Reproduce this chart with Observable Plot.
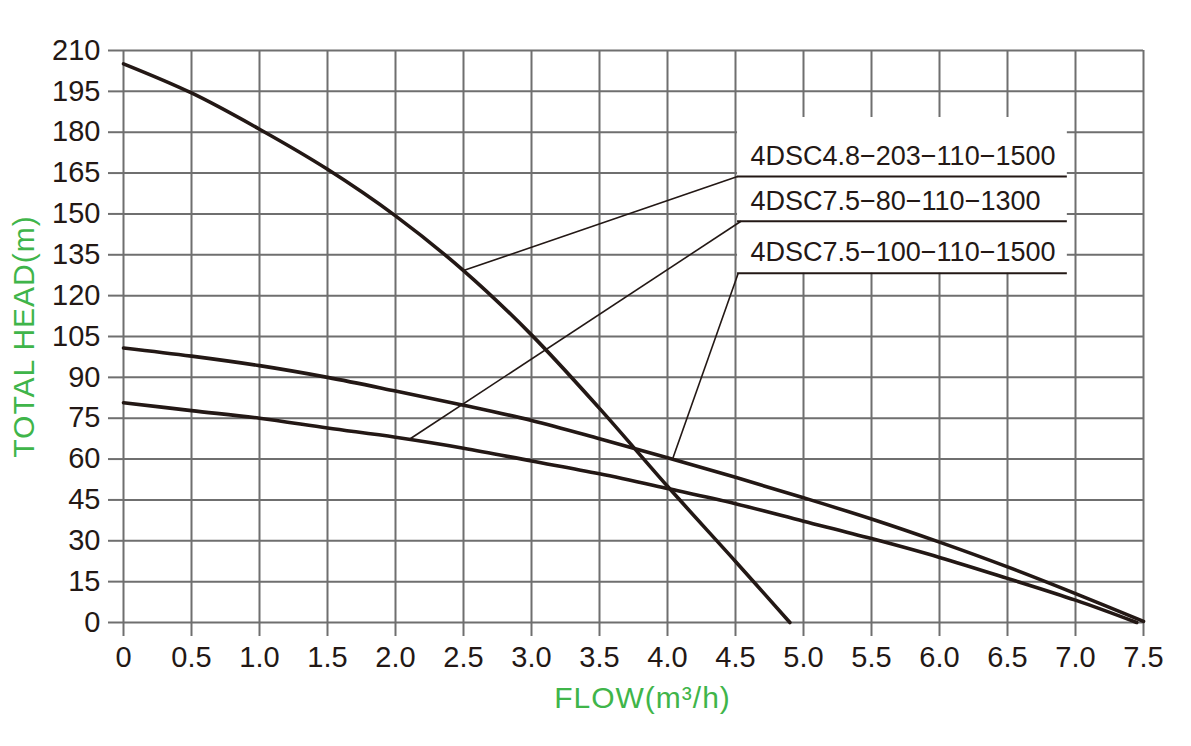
<!DOCTYPE html>
<html>
<head>
<meta charset="utf-8">
<script src="https://cdn.jsdelivr.net/npm/d3@7"></script>
<script src="https://cdn.jsdelivr.net/npm/@observablehq/plot@0.6"></script>
<style>
  html, body { margin: 0; padding: 0; background: #fff; }
  #chart svg { display: block; }
</style>
</head>
<body>
<div id="chart"></div>
<script>
// ---- Data ----
const flowA = [0, 0.5, 1.0, 1.5, 2.0, 2.5, 3.0, 3.5, 4.0, 4.5, 4.9];
const headA = [205.1, 194.4, 181.1, 166.4, 149.3, 129.2, 105.6, 78.6, 50.0, 22.4, 0];

const flowB = [0, 0.5, 1.0, 1.5, 2.0, 2.5, 3.0, 3.5, 4.0, 4.5, 5.0, 5.5, 6.0, 6.5, 7.0, 7.5];
const headB = [100.8, 97.8, 94.3, 90.0, 85.0, 79.8, 74.2, 67.5, 60.5, 53.3, 45.8, 38.0, 29.5, 20.4, 10.6, 0.4];

const flowC = [0, 0.5, 1.0, 1.5, 2.0, 2.5, 3.0, 3.5, 4.0, 4.5, 5.0, 5.5, 6.0, 6.5, 7.0, 7.45];
const headC = [80.7, 77.8, 75.0, 71.4, 68.0, 64.0, 59.3, 54.6, 49.2, 43.6, 37.2, 30.8, 23.9, 16.2, 8.2, 0];

const seriesNames = ["4DSC4.8−203−110−1500", "4DSC7.5−80−110−1300", "4DSC7.5−100−110−1500"];

const xTicks = [0, 0.5, 1.0, 1.5, 2.0, 2.5, 3.0, 3.5, 4.0, 4.5, 5.0, 5.5, 6.0, 6.5, 7.0, 7.5];
const yTicks = [0, 15, 30, 45, 60, 75, 90, 105, 120, 135, 150, 165, 180, 195, 210];

// label block (data units)
const labelX = [4.61, 4.61, 4.61];
const labelBaseY = [167.8, 151.6, 132.9];
const underlineY = [163.7, 147.3, 128.2];
const underlineX1 = 4.515, underlineX2 = 6.94;
const boxTopY = 185.4;
// leader endpoints on curves
const leaderCurveX = [2.5, 2.1, 4.04];
const leaderCurveY = [129.2, 67.2, 60.4];
const leaderLabelX = [4.515, 4.54, 4.52];

// ---- Build tables ----
const curves = [
  ...flowA.map((f, i) => ({s: "A", flow: f, head: headA[i]})),
  ...flowB.map((f, i) => ({s: "B", flow: f, head: headB[i]})),
  ...flowC.map((f, i) => ({s: "C", flow: f, head: headC[i]}))
];
const labels = seriesNames.map((name, i) => ({
  name, x: labelX[i], y: labelBaseY[i], uy: underlineY[i],
  cx: leaderCurveX[i], cy: leaderCurveY[i], lx: leaderLabelX[i]
}));

const gridColor = "#6f6f6f";
const ink = "#231815";
const green = "#3fb54a";
const font = "'Liberation Sans', Arial, Helvetica, sans-serif";

const chart = Plot.plot({
  width: 1191,
  height: 746,
  marginLeft: 123,
  marginRight: 48,
  marginTop: 50,
  marginBottom: 124,
  style: {fontFamily: font, background: "#fff", color: ink},
  x: {domain: [0, 7.5]},
  y: {domain: [0, 210]},
  marks: [
    Plot.gridX(xTicks, {stroke: gridColor, strokeOpacity: 1, strokeWidth: 2}),
    Plot.gridY(yTicks, {stroke: gridColor, strokeOpacity: 1, strokeWidth: 2}),
    Plot.axisX(xTicks, {
      tickSize: 14, tickPadding: 10, stroke: gridColor, strokeWidth: 2, fill: ink,
      fontSize: 29, label: null,
      tickFormat: d => d === 0 ? "0" : d.toFixed(1)
    }),
    Plot.axisY(yTicks, {
      tickSize: 15, tickPadding: 8, stroke: gridColor, strokeWidth: 2, fill: ink,
      fontSize: 29, label: null,
      tickFormat: d => String(d)
    }),
    // white label box covering the grid
    Plot.rect([{x1: underlineX1, x2: underlineX2, y1: underlineY[2], y2: boxTopY}], {
      x1: "x1", x2: "x2", y1: "y1", y2: "y2", fill: "#fff"
    }),
    // curves
    Plot.line(curves, {x: "flow", y: "head", z: "s", stroke: ink, strokeWidth: 3.6, curve: "catmull-rom"}),
    // underlines
    Plot.ruleY(labels, {y: "uy", x1: underlineX1, x2: underlineX2, stroke: ink, strokeWidth: 2}),
    // leader lines
    Plot.link(labels, {x1: "cx", y1: "cy", x2: "lx", y2: "uy", stroke: ink, strokeWidth: 1.6}),
    // label text
    Plot.text(labels, {x: "x", y: "y", text: "name", textAnchor: "start", lineAnchor: "bottom",
      fontSize: 27, fill: ink}),
    // axis titles
    Plot.text(["TOTAL HEAD(m)"], {frameAnchor: "left", dx: -99, rotate: -90, fill: green,
      fontSize: 30, textAnchor: "middle", lineAnchor: "middle"}),
    Plot.text(["FLOW(m³/h)"], {frameAnchor: "bottom", dx: 9, dy: 85, fill: green,
      fontSize: 30, textAnchor: "middle", lineAnchor: "bottom"})
  ]
});

// slight letter-spacing on axis titles
d3.select(chart).selectAll("text").filter(function() {
  const t = this.textContent;
  return t === "TOTAL HEAD(m)" || t === "FLOW(m³/h)";
}).style("letter-spacing", "1px");

document.getElementById("chart").appendChild(chart);
</script>
</body>
</html>
